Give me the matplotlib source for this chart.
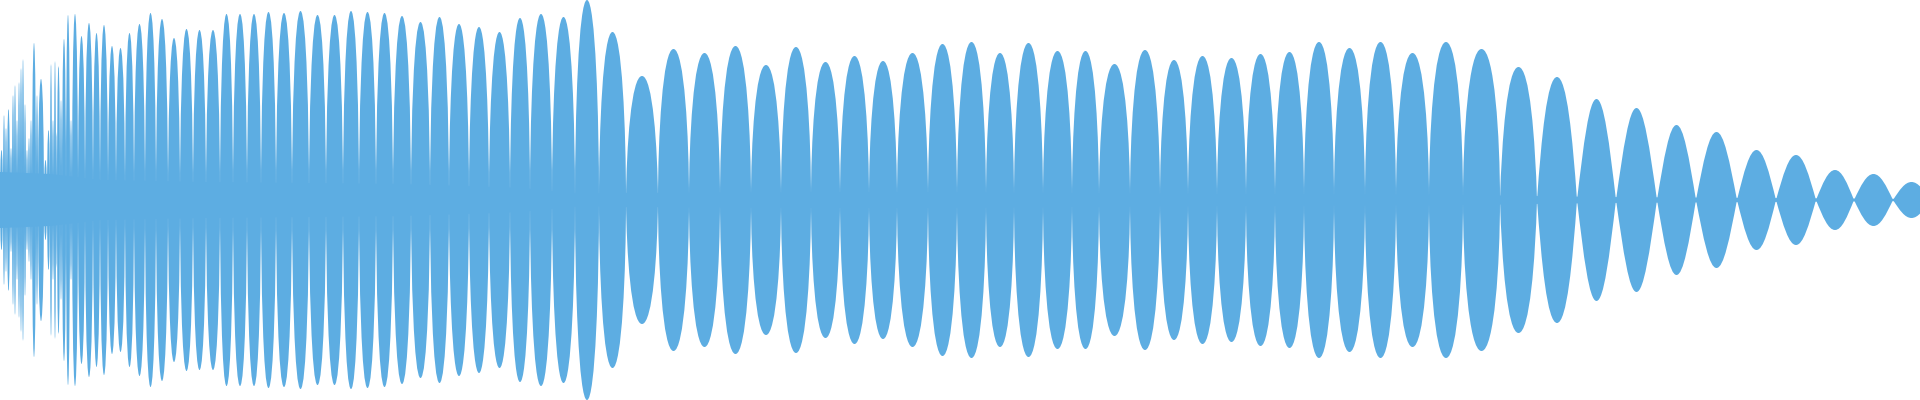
import matplotlib
matplotlib.use('Agg')
import matplotlib.pyplot as plt
from matplotlib.path import Path
from matplotlib.patches import PathPatch

# Lobe boundaries (zero crossings of the envelope), in pixel columns
nodes = [0, 3, 5, 7, 10, 12, 14, 16, 18, 20, 22, 24, 26, 28, 30, 32, 36, 38, 44, 47,
         50, 52, 54, 56, 57, 60, 62, 66, 70, 72, 78, 85, 93, 100, 108, 116, 125, 134,
         145, 156, 168, 180, 193, 206, 220, 233, 247, 261, 276, 292, 309, 326, 343, 359,
         376, 393, 411, 430, 449, 469, 489, 510, 530, 552, 575, 599, 626, 658, 689, 720,
         751, 781, 811, 840, 869, 897, 928, 957, 986, 1014, 1043, 1072, 1099, 1130, 1160,
         1188, 1217, 1246, 1275, 1304, 1334, 1365, 1396, 1429, 1463, 1500, 1537, 1577,
         1616, 1657, 1696, 1737, 1776, 1816, 1854, 1893, 1930]

# Peak amplitude of each lobe (pixels above the centre line)
peaks = [50, 85, 72, 91, 52, 105, 115, 80, 118, 132, 141, 96, 50, 62, 80, 157, 105, 121,
         40, 70, 136, 80, 139, 68, 134, 100, 161, 185, 80, 186, 164, 177, 167, 175, 154,
         152, 167, 176, 187, 181, 162, 171, 170, 170, 186, 186, 186, 188, 187, 189, 185,
         185, 189, 188, 187, 184, 178, 183, 176, 173, 168, 182, 186, 183, 200, 168, 124,
         151, 147, 154, 135, 153, 138, 144, 139, 147, 156, 158, 147, 157, 149, 149, 136,
         150, 140, 144, 142, 146, 148, 158, 152, 158, 147, 158, 151, 133, 123, 101, 92,
         75, 68, 50, 45, 30, 26, 18]

# Residual level between lobes (the solid band around the centre)
band_x = [0, 50, 100, 200, 400, 520, 580, 620, 900, 1200, 1460, 1600, 1920]
band_h = [28, 26, 20, 18, 16, 12, 6, 7, 8, 6, 5, 3, 1]

COLOR = '#5dade2'


def lobe_shape(h, w):
    # tall narrow lobes look fuller, short wide ones look like a plain sine hump
    f = min(max((h / w - 2.5) / 1.5, 0.0), 1.0)
    a = 0.36 + (0.0 - 0.36) * f
    b = 0.566 + (0.42 - 0.566) * f
    c = 0.64 + (0.30 - 0.64) * f
    return a, b, c


def main():
    assert len(nodes) == len(peaks) + 1

    fig = plt.figure(figsize=(19.2, 4), dpi=100)
    ax = fig.add_axes([0, 0, 1, 1])

    verts, codes = [], []
    for x0, x1, h in zip(nodes[:-1], nodes[1:], peaks):
        hw = (x1 - x0) / 2
        xm = x0 + hw
        a, b, c = lobe_shape(h, x1 - x0)
        for s in (1, -1):
            verts += [(x0, 0),
                      (x0 + a * hw, s * b * h), (x0 + c * hw, s * h), (xm, s * h),
                      (x1 - c * hw, s * h), (x1 - a * hw, s * b * h), (x1, 0),
                      (x0, 0)]
            codes += [Path.MOVETO] + [Path.CURVE4] * 6 + [Path.CLOSEPOLY]

    ax.add_patch(PathPatch(Path(verts, codes), facecolor=COLOR, edgecolor='none', lw=0))
    ax.fill_between(band_x, [-v for v in band_h], band_h, color=COLOR, lw=0)

    ax.set_xlim(0, 1920)
    ax.set_ylim(-200, 200)
    ax.axis('off')

    fig.savefig('out.png', dpi=100, facecolor='white')


if __name__ == "__main__":
    main()
